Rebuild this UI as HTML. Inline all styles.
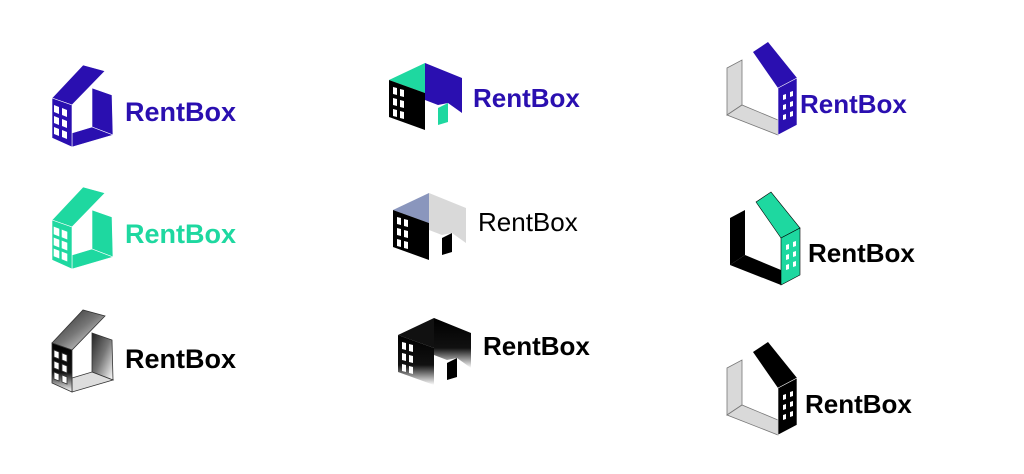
<!DOCTYPE html>
<html><head><meta charset="utf-8"><style>
html,body{margin:0;padding:0;background:#fff;}
svg{display:block;}
text{font-family:"Liberation Sans",sans-serif;font-weight:bold;}
</style></head><body>
<svg width="1024" height="474" viewBox="0 0 1024 474" xmlns="http://www.w3.org/2000/svg">
<defs>
<g id="winA">
<polygon points="54,105 59,107 59,114 54,112" fill="#fff"/><polygon points="62,108 67,110 67,117 62,115" fill="#fff"/>
<polygon points="54,116 59,118 59,125 54,123" fill="#fff"/><polygon points="62,119 67,121 67,128 62,126" fill="#fff"/>
<polygon points="54,127 59,129 59,136 54,134" fill="#fff"/><polygon points="62,130 67,132 67,139 62,137" fill="#fff"/>
</g>
<g id="winB">
<polygon points="393,87 397,88 397,95 393,94" fill="#fff"/><polygon points="400,89 404,90 404,97 400,96" fill="#fff"/>
<polygon points="393,98 397,99 397,106 393,105" fill="#fff"/><polygon points="400,100 404,101 404,108 400,107" fill="#fff"/>
<polygon points="393,109 397,110 397,117 393,116" fill="#fff"/><polygon points="400,111 404,112 404,119 400,118" fill="#fff"/>
</g>
<g id="winC">
<polygon points="783,95 786,94 786,99 783,100" fill="#fff"/><polygon points="790,92 793,91 793,96 790,97" fill="#fff"/>
<polygon points="783,105 786,104 786,109 783,110" fill="#fff"/><polygon points="790,102 793,101 793,106 790,107" fill="#fff"/>
<polygon points="783,115 786,114 786,119 783,120" fill="#fff"/><polygon points="790,112 793,111 793,116 790,117" fill="#fff"/>
</g>
<linearGradient id="g1" x1="0" y1="0" x2="1" y2="1"><stop offset="0" stop-color="#222"/><stop offset="0.5" stop-color="#777"/><stop offset="1" stop-color="#fff"/></linearGradient>
<linearGradient id="g2" x1="0" y1="0" x2="0" y2="1"><stop offset="0" stop-color="#000"/><stop offset="0.6" stop-color="#111"/><stop offset="1" stop-color="#fff"/></linearGradient>
</defs>

<!-- Column 1 -->
<g stroke="#fff" stroke-width="0.6">
<polygon points="52,98 83,65 105,71 72,105" fill="#2a0fb0"/>
<polygon points="92,88 112,95 113,135 92,127" fill="#2a0fb0"/>
<polygon points="72,133 92,127 113,135 72,147" fill="#2a0fb0"/>
<polygon points="52,98 72,105 72,147 52,138" fill="#2a0fb0"/>
</g>
<use href="#winA"/>
<text x="125" y="121" font-size="27" fill="#2a0fb0">RentBox</text>

<g transform="translate(0,122)" stroke="#fff" stroke-width="0.6">
<polygon points="52,98 83,65 105,71 72,105" fill="#1ed8a0"/>
<polygon points="92,88 112,95 113,135 92,127" fill="#1ed8a0"/>
<polygon points="72,133 92,127 113,135 72,147" fill="#1ed8a0"/>
<polygon points="52,98 72,105 72,147 52,138" fill="#1ed8a0"/>
<use href="#winA"/>
</g>
<text x="125" y="243" font-size="27" fill="#1ed8a0">RentBox</text>

<g transform="translate(0,245)" stroke="#333" stroke-width="0.8">
<polygon points="52,98 83,65 105,71 72,105" fill="url(#g1)"/>
<polygon points="92,88 112,95 113,135 92,127" fill="url(#g1)"/>
<polygon points="72,133 92,127 113,135 72,147" fill="#ddd"/>
<polygon points="52,98 72,105 72,147 52,138" fill="url(#g2)"/>
<use href="#winA"/>
</g>
<text x="125" y="368" font-size="27" fill="#000">RentBox</text>

<!-- Column 2 -->
<polygon points="389,80 425,63 425,93" fill="#1ed8a0"/>
<polygon points="425,63 462,78 462,113 448,103 438,105 425,100" fill="#2a0fb0"/>
<polygon points="389,80 425,93 425,130 389,117" fill="#000"/>
<polygon points="438,108 448,103 448,122 438,125" fill="#1ed8a0"/>
<use href="#winB"/>
<text x="473" y="107" font-size="26" fill="#2a0fb0">RentBox</text>

<g transform="translate(4,130)">
<polygon points="389,80 425,63 425,93" fill="#8a96bd"/>
<polygon points="425,63 462,78 462,113 448,103 438,105 425,100" fill="#d9d9d9"/>
<polygon points="389,80 425,93 425,130 389,117" fill="#000"/>
<polygon points="438,108 448,103 448,122 438,125" fill="#000"/>
<use href="#winB"/>
</g>
<text x="478" y="231" font-size="26" fill="#000" style="font-weight:normal">RentBox</text>

<g transform="translate(9,255)">
<polygon points="389,80 425,63 425,93" fill="#111"/>
<polygon points="425,63 462,78 462,113 448,103 438,105 425,100" fill="url(#g2)"/>
<polygon points="389,80 425,93 425,130 389,117" fill="url(#g2)"/>
<polygon points="438,108 448,103 448,122 438,125" fill="#000"/>
<use href="#winB"/>
</g>
<text x="483" y="355" font-size="26" fill="#000">RentBox</text>

<!-- Column 3 -->
<g stroke="#777" stroke-width="0.8">
<polygon points="727,68 742,60 742,105 727,115" fill="#d9d9d9"/>
<polygon points="727,115 742,105 778,120 778,135" fill="#d9d9d9"/>
</g>
<polygon points="753,52 768,42 797,78 778,88" fill="#2a0fb0"/>
<polygon points="778,88 797,78 797,125 778,135" fill="#2a0fb0" stroke="#fff" stroke-width="0.6"/>
<use href="#winC"/>
<text x="800" y="113" font-size="26" fill="#2a0fb0">RentBox</text>

<g transform="translate(3,150)">
<polygon points="727,68 742,60 742,105 727,115" fill="#000"/>
<polygon points="727,115 742,105 778,120 778,135" fill="#000"/>
<polygon points="753,52 768,42 797,78 778,88" fill="#1ed8a0" stroke="#000" stroke-width="0.6"/>
<polygon points="778,88 797,78 797,125 778,135" fill="#1ed8a0" stroke="#000" stroke-width="0.6"/>
<use href="#winC"/>
</g>
<text x="808" y="262" font-size="26" fill="#000">RentBox</text>

<g transform="translate(0,300)">
<g stroke="#777" stroke-width="0.8">
<polygon points="727,68 742,60 742,105 727,115" fill="#d9d9d9"/>
<polygon points="727,115 742,105 778,120 778,135" fill="#d9d9d9"/>
</g>
<polygon points="753,52 768,42 797,78 778,88" fill="#000"/>
<polygon points="778,88 797,78 797,125 778,135" fill="#000" stroke="#fff" stroke-width="0.6"/>
<use href="#winC"/>
</g>
<text x="805" y="413" font-size="26" fill="#000">RentBox</text>
</svg>
</body></html>
